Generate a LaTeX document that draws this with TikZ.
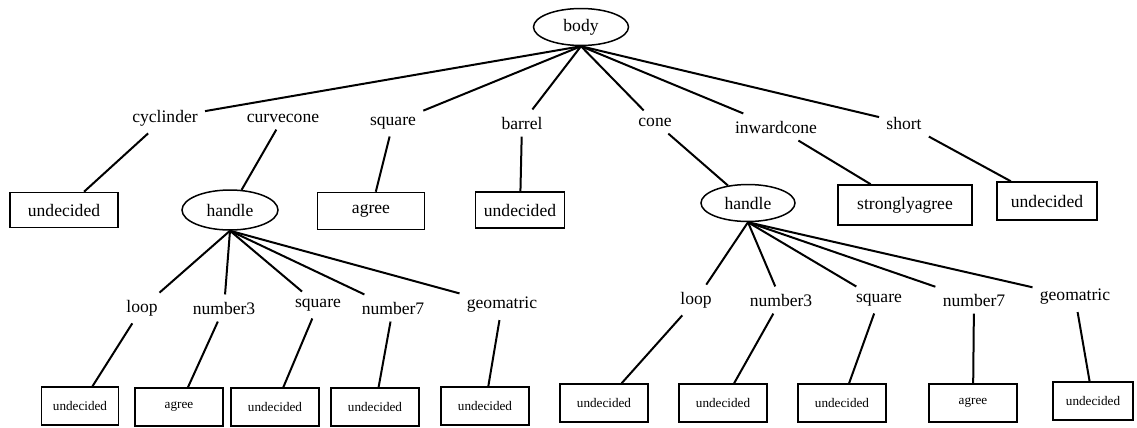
\documentclass[tikz,border=0pt]{standalone}
\usepackage{fontspec}
\setmainfont{Liberation Serif}
\usetikzlibrary{shapes.geometric}

\begin{document}
\begin{tikzpicture}[x=0.02cm,y=-0.02cm,
	every node/.style={font=\fontsize{10}{12}\selectfont,inner sep=4pt},
	treeline/.style={line width=0.4mm},
	oval/.style={draw,ellipse,line width=0.3mm,inner sep=0pt},
	answer/.style={draw,line width=0.3mm,inner sep=0pt,minimum height=0.72cm},
	leaf/.style={answer,font=\fontsize{7.5}{9}\selectfont,minimum width=1.76cm,minimum height=0.76cm}]
						\useasboundingbox (0,0) rectangle (1137,427);
						
						% root
						\node[oval,minimum width=1.9cm,minimum height=0.74cm] (body) at (581,27) {body};
						
						% first level
						\node (cyc) at (165,118) {cyclinder};
						\node (curv) at (283,118) {curvecone};
						\node (sq) at (393,123) {square};
						\node (bar) at (522,123) {barrel};
						\node (cone) at (655,122) {cone};
						\node (inw) at (776,127) {inwardcone};
						\node (short) at (904,123) {short};
						
						\draw[treeline] (body.south) -- (cyc);
						\draw[treeline] (body.south) -- (sq);
						\draw[treeline] (body.south) -- (bar);
						\draw[treeline] (body.south) -- (cone);
						\draw[treeline] (body.south) -- (inw);
						\draw[treeline] (body.south) -- (short);
						
						% second level
						\node[answer,minimum width=2.16cm,minimum height=0.7cm] (cycA) at (64,210) {undecided};
						\node[oval,minimum width=1.92cm,minimum height=0.8cm] (handleA) at (230,210) {handle};
						\node[answer,minimum width=2.14cm,minimum height=0.74cm] (sqA) at (371,211) {agree};
						\node[answer,minimum width=1.78cm] (barA) at (520,210) {undecided};
						\node[oval,minimum width=1.88cm,minimum height=0.74cm] (handleB) at (748,203) {handle};
						\node[answer,minimum width=2.68cm,minimum height=0.8cm] (inwA) at (905,205) {stronglyagree};
						\node[answer,minimum width=2cm,minimum height=0.76cm] (shortA) at (1047,201) {undecided};
						
						\draw[treeline] (cyc) -- (cycA);
						\draw[treeline] (curv) -- (handleA);
						\draw[treeline] (sq) -- (sqA);
						\draw[treeline] (bar) -- (barA);
						\draw[treeline] (cone) -- (handleB);
						\draw[treeline] (inw) -- (inwA);
						\draw[treeline] (short) -- (shortA);
						
						% third level, left handle
						\node (loopA) at (142,308) {loop};
						\node (numthreeA) at (224,308) {number3};
						\node (sqB) at (318,305) {square};
						\node (numsevenA) at (393,308) {number7};
						\node (geoA) at (502,305) {geomatric};
						
						\draw[treeline] (handleA.south) -- (loopA);
						\draw[treeline] (handleA.south) -- (numthreeA);
						\draw[treeline] (handleA.south) -- (sqB);
						\draw[treeline] (handleA.south) -- (numsevenA);
						\draw[treeline] (handleA.south) -- (geoA);
						
						% third level, right handle
						\node (loopB) at (696,300) {loop};
						\node (numthreeB) at (781,300) {number3};
						\node (sqC) at (879,300) {square};
						\node (numsevenB) at (974,300) {number7};
						\node (geoB) at (1075,297) {geomatric};
						
						\draw[treeline] (handleB.south) -- (loopB);
						\draw[treeline] (handleB.south) -- (numthreeB);
						\draw[treeline] (handleB.south) -- (sqC);
						\draw[treeline] (handleB.south) -- (numsevenB);
						\draw[treeline] (handleB.south) -- (geoB);
						
						% leaves
						\node[leaf,minimum width=1.54cm] (leafA) at (80,406) {undecided};
						\node[leaf] (leafB) at (179,407) {agree};
						\node[leaf] (leafC) at (275,407) {undecided};
						\node[leaf] (leafD) at (375,407) {undecided};
						\node[leaf] (leafE) at (485,406) {undecided};
						\node[leaf] (leafF) at (604,403) {undecided};
						\node[leaf] (leafG) at (723,403) {undecided};
						\node[leaf] (leafH) at (842,403) {undecided};
						\node[leaf] (leafI) at (973,403) {agree};
						\node[leaf,minimum width=1.6cm] (leafJ) at (1093,401) {undecided};
						
						\draw[treeline] (loopA) -- (leafA);
						\draw[treeline] (numthreeA) -- (leafB);
						\draw[treeline] (sqB) -- (leafC);
						\draw[treeline] (numsevenA) -- (leafD);
						\draw[treeline] (geoA) -- (leafE);
						\draw[treeline] (loopB) -- (leafF);
						\draw[treeline] (numthreeB) -- (leafG);
						\draw[treeline] (sqC) -- (leafH);
						\draw[treeline] (numsevenB) -- (leafI);
						\draw[treeline] (geoB) -- (leafJ);
						\end{tikzpicture}
\end{document}
